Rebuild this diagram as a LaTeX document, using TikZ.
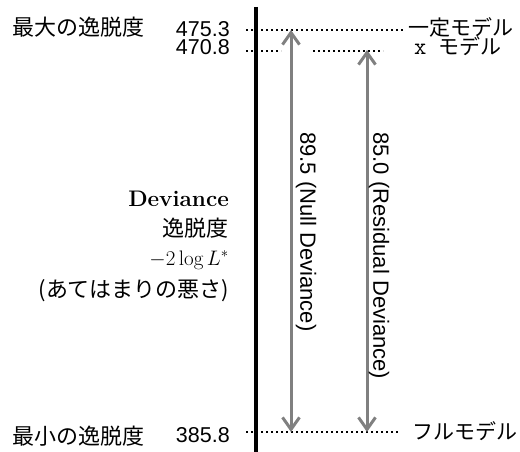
\documentclass[tikz,border=0pt]{standalone}
\usepackage{fix-cm}
\usepackage{fontspec}
\setsansfont{Liberation Sans}
\newfontfamily\cjk{Noto Sans CJK JP}
\usetikzlibrary{arrows.meta}
\begin{document}
\begin{tikzpicture}[x=1pt,y=-1pt,
  cjktext/.style={font=\cjk\fontsize{22}{26}\selectfont, inner sep=0pt},
  cjkright/.style={font=\cjk\fontsize{21}{25}\selectfont, inner sep=0pt},
  numtext/.style={font=\sffamily\fontsize{21.5}{25}\selectfont, inner sep=0pt},
  rottext/.style={font=\sffamily\fontsize{22}{26}\selectfont, inner sep=0pt, rotate=-90, anchor=west},
  axisline/.style={line width=3.2pt, black},
  dotline/.style={line width=1.6pt, dash pattern=on 2pt off 3pt},
  garrow/.style={line width=3pt, color=gray,
    arrows={Straight Barb[length=12pt,width=17pt]-Straight Barb[length=12pt,width=17pt]}}]
\useasboundingbox (0,0) rectangle (520,452);

% coordinates
\coordinate (axtop) at (256,7);
\coordinate (axbot) at (256,452);
\coordinate (d1a) at (246,30);  \coordinate (d1b) at (404,30);
\coordinate (d2a) at (246,51);  \coordinate (d2b) at (281,51);
\coordinate (d2c) at (313,51);  \coordinate (d2d) at (383,51);
\coordinate (d3a) at (246,432); \coordinate (d3b) at (398,432);
\coordinate (na) at (291,30);   \coordinate (nb) at (291,432);
\coordinate (ra) at (367,50);   \coordinate (rb) at (367,432);

% dotted level lines
\draw[dotline] (d1a) -- (d1b);
\draw[dotline] (d2a) -- (d2b);
\draw[dotline] (d2c) -- (d2d);
\draw[dotline] (d3a) -- (d3b);

% axis
\draw[axisline] (axtop) -- (axbot);

% arrows
\draw[garrow] (na) -- (nb);
\draw[garrow] (ra) -- (rb);

% rotated labels
\node[rottext] (nulllab) at (306,132) {89.5 (Null Deviance)};
\node[rottext] (reslab) at (379,132) {85.0 (Residual Deviance)};

% left labels
\node[cjktext, anchor=west] (maxlab) at (12,27.5) {最大の逸脱度};
\node[numtext, anchor=base east] (maxval) at (230,37) {475.3};
\node[numtext, anchor=base east] (xval) at (230,55) {470.8};
\node[cjktext, anchor=west] (minlab) at (12,436) {最小の逸脱度};
\node[numtext, anchor=base east] (minval) at (230,442.5) {385.8};

\node[anchor=base east, font=\bfseries\fontsize{22.5}{26}\selectfont, inner sep=0pt] (dev) at (229,206) {Deviance};
\node[cjktext, anchor=east] (itsu) at (229,228) {逸脱度};
\node[anchor=base east, font=\fontsize{21}{25}\selectfont, inner sep=0pt] (mtwo) at (229,265) {$-2\log L^*$};
\node[cjktext, anchor=east] (bad) at (229,291) {(あてはまりの悪さ)};

% right labels
\node[cjkright, anchor=west] (constmod) at (408,27) {一定モデル};
\node[inner sep=0pt, anchor=base west] (xmod) at (414,55)
  {{\ttfamily\fontsize{24}{28}\selectfont x}\hspace{12pt}{\cjk\fontsize{21}{25}\selectfont モデル}};
\node[cjkright, anchor=west] (fullmod) at (412,431) {フルモデル};
\end{tikzpicture}
\end{document}
